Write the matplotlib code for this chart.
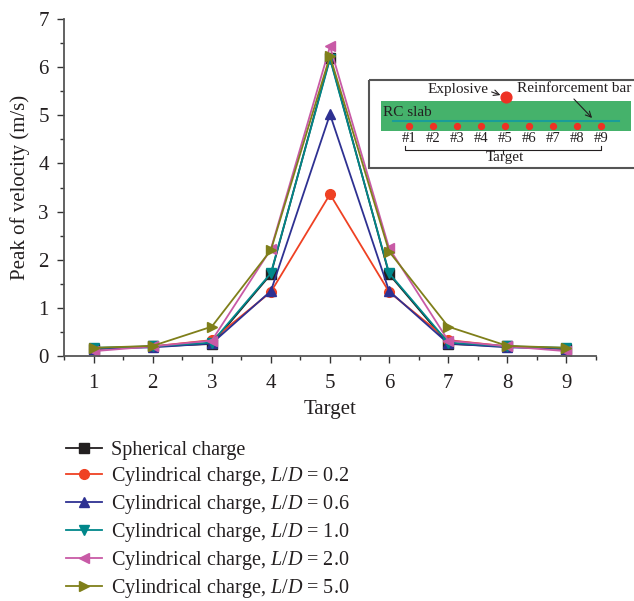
import matplotlib
matplotlib.use('Agg')
import matplotlib.pyplot as plt
from matplotlib.ticker import MultipleLocator

plt.rcParams['font.family'] = 'Liberation Serif'
plt.rcParams['mathtext.fontset'] = 'custom'
plt.rcParams['mathtext.rm'] = 'Liberation Serif'
plt.rcParams['mathtext.it'] = 'Liberation Serif:italic'

# data
targets = [1, 2, 3, 4, 5, 6, 7, 8, 9]
spherical = [0.15, 0.20, 0.25, 1.70, 6.20, 1.70, 0.25, 0.20, 0.15]
ld_02 = [0.15, 0.20, 0.33, 1.33, 3.36, 1.33, 0.33, 0.20, 0.15]
ld_06 = [0.15, 0.18, 0.26, 1.35, 5.02, 1.35, 0.26, 0.18, 0.15]
ld_10 = [0.17, 0.20, 0.28, 1.72, 6.17, 1.72, 0.28, 0.20, 0.17]
ld_20 = [0.10, 0.20, 0.32, 2.22, 6.43, 2.24, 0.32, 0.20, 0.10]
ld_50 = [0.17, 0.21, 0.61, 2.20, 6.23, 2.17, 0.61, 0.21, 0.17]

labels = ['Spherical charge',
          'Cylindrical charge, $L/D$ = 0.2',
          'Cylindrical charge, $L/D$ = 0.6',
          'Cylindrical charge, $L/D$ = 1.0',
          'Cylindrical charge, $L/D$ = 2.0',
          'Cylindrical charge, $L/D$ = 5.0']
series = [spherical, ld_02, ld_06, ld_10, ld_20, ld_50]
colors = ['#231f20', '#ef4123', '#2e3192', '#00878a', '#c85aa6', '#7f7f1a']
markers = ['s', 'o', '^', 'v', '<', '>']

fig = plt.figure(figsize=(6.34, 6.01), dpi=100)
ax = fig.add_axes([64/634, 1-356/601, (596-64)/634, (356-19)/601])

for y, lab, c, m in zip(series, labels, colors, markers):
    ax.plot(targets, y, color=c, marker=m, ms=7, lw=1.3, label=lab)

ax.set_xlim(0.5, 9.5)
ax.set_ylim(0, 7)
ax.xaxis.set_major_locator(MultipleLocator(1))
ax.xaxis.set_minor_locator(MultipleLocator(0.5))
ax.yaxis.set_major_locator(MultipleLocator(1))
ax.yaxis.set_minor_locator(MultipleLocator(0.5))
ax.spines['top'].set_visible(False)
ax.spines['right'].set_visible(False)
for s in ['left', 'bottom']:
    ax.spines[s].set_color('#555555')
    ax.spines[s].set_linewidth(1.3)
ax.tick_params(which='major', length=5, width=1, colors='#333333', labelsize=15, labelcolor='#231f20')
ax.tick_params(axis='x', which='major', pad=8)
ax.tick_params(axis='y', which='major', pad=6)
ax.tick_params(which='minor', length=3, width=1, colors='#333333')
ax.set_xlabel('Target', fontsize=15, color='#231f20', labelpad=5)
ax.set_ylabel('Peak of velocity (m/s)', fontsize=15, color='#231f20', labelpad=6)

leg = fig.legend(loc='upper left', bbox_to_anchor=(58/634, 1-433/601), frameon=False,
                 fontsize=14.5, handlelength=1.8, handletextpad=0.45, labelspacing=0.25,
                 borderaxespad=0)
for t in leg.get_texts():
    t.set_color('#231f20')

# inset schematic (pixel coords)
ins = fig.add_axes([0, 0, 1, 1], facecolor='none')
ins.set_xlim(0, 634)
ins.set_ylim(601, 0)
ins.axis('off')
ins.add_patch(plt.Rectangle((369, 80), 300, 88, fill=False, ec='#555555', lw=1.5))
ins.add_patch(plt.Rectangle((381, 101), 250, 30, color='#45b26b', ec='none'))
ins.plot([393, 619], [121, 121], color='#1a9d9a', lw=1.5)
dots_x = [409 + 24 * i for i in range(9)]
ins.scatter(dots_x, [126] * 9, s=18, color='#ee3124', zorder=3)
for i, x in enumerate(dots_x):
    ins.text(x, 139, '#%d' % (i + 1), ha='center', va='center', fontsize=10.5, color='#231f20')
ins.plot([405, 405, 601, 601], [146, 150, 150, 146], color='#231f20', lw=0.8)
ins.plot([503, 503], [150, 153], color='#231f20', lw=0.8)
ins.text(505, 157, 'Target', ha='center', va='center', fontsize=11, color='#231f20')
ins.text(383, 113, 'RC slab', ha='left', va='center', fontsize=11, color='#231f20')
ins.scatter([506], [97], s=60, color='#ee3124', zorder=3)
ins.text(489, 89, 'Explosive', ha='right', va='center', fontsize=11, color='#231f20')
ins.annotate('', xy=(503, 96), xytext=(489, 91),
             arrowprops=dict(arrowstyle='->', color='#231f20', lw=0.8))
ins.text(517, 89, 'Reinforcement bar', ha='left', va='center', fontsize=11, color='#231f20')
ins.annotate('', xy=(594, 120), xytext=(572, 97),
             arrowprops=dict(arrowstyle='->', color='#231f20', lw=0.8))

fig.savefig('out.png', dpi=100)
